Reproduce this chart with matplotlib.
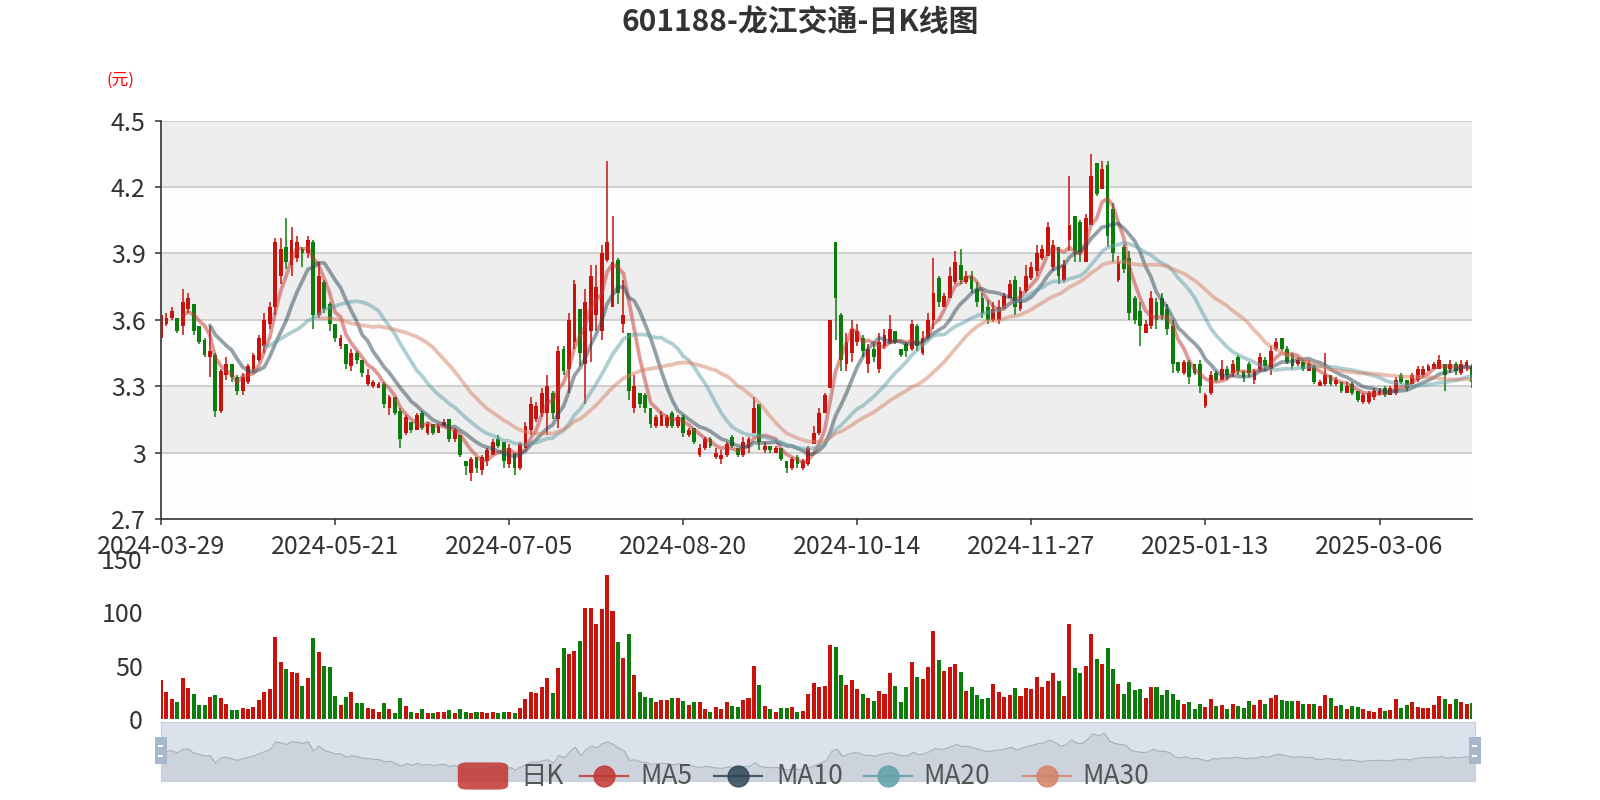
import numpy as np
import pandas as pd
import matplotlib
matplotlib.use('Agg')
import matplotlib.pyplot as plt
from matplotlib.patches import Rectangle, FancyBboxPatch
from matplotlib.lines import Line2D

plt.rcParams['font.family'] = ['Noto Sans CJK SC', 'DejaVu Sans']

# trading calendar (A-share), holidays removed from weekdays
holidays = ['2024-04-04', '2024-04-05', '2024-05-01', '2024-05-02', '2024-05-03',
            '2024-06-10', '2024-09-16', '2024-09-17', '2024-10-01', '2024-10-02',
            '2024-10-03', '2024-10-04', '2024-10-07', '2025-01-01', '2025-01-28',
            '2025-01-29', '2025-01-30', '2025-01-31', '2025-02-03', '2025-02-04']
days = pd.bdate_range('2024-03-29', '2025-03-31')
date_labels = [d.strftime('%Y-%m-%d') for d in days if d.strftime('%Y-%m-%d') not in holidays]

open_ = [
    3.52, 3.58, 3.61, 3.61, 3.57, 3.65, 3.67, 3.57, 3.51, 3.43,
    3.44, 3.19, 3.35, 3.40, 3.34, 3.28, 3.32, 3.38, 3.42, 3.48,
    3.58, 3.66, 3.80, 3.93, 3.85, 3.88, 3.92, 3.90, 3.95, 3.62,
    3.77, 3.67, 3.58, 3.48, 3.49, 3.39, 3.45, 3.42, 3.31, 3.30,
    3.29, 3.31, 3.20, 3.25, 3.19, 3.09, 3.14, 3.10, 3.18, 3.09,
    3.13, 3.09, 3.12, 3.15, 3.06, 3.08, 2.96, 2.91, 2.98, 2.92,
    2.96, 2.99, 3.06, 3.05, 2.95, 3.00, 2.93, 3.02, 3.10, 3.15,
    3.18, 3.18, 3.27, 3.15, 3.47, 3.38, 3.50, 3.65, 3.40, 3.55,
    3.62, 3.55, 3.87, 3.66, 3.87, 3.58, 3.54, 3.20, 3.27, 3.26,
    3.20, 3.12, 3.12, 3.12, 3.18, 3.12, 3.16, 3.08, 3.11, 2.99,
    3.02, 3.06, 2.98, 2.97, 2.99, 3.07, 3.02, 2.99, 3.02, 3.09,
    3.22, 3.01, 3.03, 3.00, 3.02, 2.96, 2.93, 2.98, 2.93, 2.95,
    3.04, 3.09, 3.18, 3.29, 3.95, 3.62, 3.40, 3.45, 3.50, 3.52,
    3.40, 3.47, 3.38, 3.48, 3.50, 3.55, 3.47, 3.49, 3.47, 3.57,
    3.45, 3.52, 3.60, 3.79, 3.66, 3.70, 3.77, 3.85, 3.77, 3.80,
    3.74, 3.70, 3.66, 3.60, 3.60, 3.65, 3.70, 3.78, 3.65, 3.73,
    3.79, 3.82, 3.88, 3.89, 3.84, 3.93, 3.78, 3.96, 4.07, 4.04,
    3.86, 4.03, 4.31, 4.19, 4.30, 4.10, 3.78, 3.93, 3.88, 3.70,
    3.64, 3.54, 3.57, 3.68, 3.70, 3.65, 3.57, 3.41, 3.36, 3.41,
    3.40, 3.40, 3.21, 3.27, 3.36, 3.33, 3.38, 3.36, 3.43, 3.37,
    3.40, 3.33, 3.38, 3.42, 3.38, 3.47, 3.52, 3.47, 3.44, 3.40,
    3.41, 3.37, 3.39, 3.30, 3.31, 3.35, 3.31, 3.32, 3.27, 3.31,
    3.28, 3.23, 3.23, 3.25, 3.26, 3.29, 3.26, 3.27, 3.35, 3.33,
    3.31, 3.33, 3.35, 3.37, 3.38, 3.38, 3.40, 3.38, 3.40, 3.36,
    3.39, 3.39]

high = [
    3.84, 3.63, 3.66, 3.61, 3.74, 3.72, 3.67, 3.57, 3.52, 3.57,
    3.45, 3.38, 3.43, 3.40, 3.35, 3.36, 3.40, 3.45, 3.53, 3.63,
    3.68, 3.97, 3.97, 4.06, 4.02, 3.98, 3.93, 3.98, 3.96, 3.86,
    3.78, 3.68, 3.58, 3.53, 3.49, 3.47, 3.46, 3.42, 3.38, 3.33,
    3.32, 3.32, 3.26, 3.25, 3.20, 3.17, 3.14, 3.18, 3.19, 3.14,
    3.13, 3.13, 3.15, 3.15, 3.11, 3.08, 2.96, 2.98, 2.98, 2.99,
    3.02, 3.06, 3.08, 3.05, 3.04, 3.00, 3.05, 3.14, 3.25, 3.23,
    3.29, 3.35, 3.28, 3.48, 3.48, 3.63, 3.78, 3.65, 3.74, 3.85,
    3.85, 3.94, 4.32, 4.07, 3.88, 3.78, 3.54, 3.35, 3.27, 3.27,
    3.20, 3.17, 3.19, 3.17, 3.19, 3.17, 3.17, 3.11, 3.11, 3.04,
    3.07, 3.07, 3.02, 3.01, 3.05, 3.08, 3.02, 3.07, 3.07, 3.25,
    3.22, 3.05, 3.03, 3.03, 3.02, 2.96, 2.98, 2.99, 2.97, 3.03,
    3.12, 3.20, 3.27, 3.60, 3.95, 3.63, 3.54, 3.60, 3.58, 3.53,
    3.49, 3.49, 3.54, 3.56, 3.62, 3.55, 3.47, 3.50, 3.60, 3.58,
    3.55, 3.63, 3.88, 3.80, 3.72, 3.84, 3.91, 3.92, 3.82, 3.82,
    3.77, 3.72, 3.69, 3.68, 3.69, 3.72, 3.78, 3.80, 3.75, 3.85,
    3.86, 3.94, 3.94, 4.04, 3.96, 3.93, 3.87, 4.25, 4.07, 4.05,
    4.08, 4.35, 4.31, 4.32, 4.32, 4.13, 3.89, 3.94, 3.91, 3.71,
    3.68, 3.60, 3.73, 3.70, 3.72, 3.67, 3.60, 3.41, 3.42, 3.42,
    3.40, 3.42, 3.27, 3.37, 3.37, 3.42, 3.39, 3.42, 3.44, 3.37,
    3.41, 3.38, 3.45, 3.43, 3.48, 3.52, 3.52, 3.48, 3.45, 3.43,
    3.42, 3.42, 3.40, 3.33, 3.45, 3.35, 3.34, 3.32, 3.32, 3.32,
    3.28, 3.27, 3.28, 3.29, 3.29, 3.30, 3.30, 3.34, 3.36, 3.33,
    3.36, 3.39, 3.39, 3.40, 3.41, 3.44, 3.40, 3.42, 3.41, 3.42,
    3.42, 3.40]

low = [
    3.50, 3.57, 3.60, 3.54, 3.53, 3.63, 3.53, 3.49, 3.43, 3.34,
    3.16, 3.18, 3.33, 3.32, 3.26, 3.26, 3.31, 3.37, 3.41, 3.45,
    3.56, 3.62, 3.76, 3.83, 3.80, 3.86, 3.84, 3.88, 3.56, 3.61,
    3.63, 3.55, 3.50, 3.47, 3.38, 3.37, 3.40, 3.34, 3.30, 3.29,
    3.29, 3.20, 3.17, 3.17, 3.02, 3.08, 3.09, 3.10, 3.10, 3.08,
    3.08, 3.09, 3.12, 3.05, 3.05, 2.98, 2.90, 2.87, 2.91, 2.90,
    2.94, 2.99, 3.02, 2.93, 2.93, 2.90, 2.92, 3.02, 3.08, 3.14,
    3.16, 3.08, 3.15, 3.11, 3.35, 3.27, 3.47, 3.39, 3.22, 3.41,
    3.55, 3.51, 3.86, 3.66, 3.67, 3.54, 3.24, 3.18, 3.20, 3.18,
    3.11, 3.11, 3.12, 3.11, 3.11, 3.11, 3.07, 3.07, 3.04, 2.98,
    3.01, 3.02, 2.97, 2.95, 2.98, 3.02, 2.98, 2.98, 3.00, 3.09,
    3.01, 3.00, 3.00, 3.00, 2.96, 2.91, 2.92, 2.93, 2.92, 2.94,
    3.04, 3.08, 3.18, 3.29, 3.51, 3.37, 3.37, 3.41, 3.48, 3.43,
    3.36, 3.41, 3.36, 3.47, 3.49, 3.49, 3.43, 3.43, 3.46, 3.46,
    3.44, 3.51, 3.56, 3.66, 3.66, 3.70, 3.76, 3.76, 3.76, 3.72,
    3.66, 3.61, 3.58, 3.59, 3.58, 3.65, 3.70, 3.62, 3.64, 3.72,
    3.78, 3.80, 3.87, 3.89, 3.82, 3.76, 3.77, 3.91, 3.86, 3.86,
    3.86, 4.03, 4.16, 4.19, 3.93, 3.86, 3.77, 3.81, 3.60, 3.58,
    3.48, 3.54, 3.56, 3.56, 3.60, 3.53, 3.36, 3.36, 3.35, 3.31,
    3.35, 3.27, 3.20, 3.26, 3.32, 3.33, 3.33, 3.34, 3.35, 3.32,
    3.34, 3.31, 3.37, 3.37, 3.35, 3.46, 3.46, 3.40, 3.38, 3.39,
    3.37, 3.37, 3.31, 3.30, 3.30, 3.30, 3.30, 3.27, 3.27, 3.26,
    3.23, 3.22, 3.22, 3.24, 3.26, 3.25, 3.26, 3.26, 3.31, 3.28,
    3.31, 3.32, 3.34, 3.37, 3.38, 3.38, 3.28, 3.36, 3.35, 3.35,
    3.37, 3.29]

close = [
    3.62, 3.61, 3.64, 3.55, 3.68, 3.70, 3.55, 3.50, 3.44, 3.46,
    3.19, 3.37, 3.40, 3.34, 3.28, 3.34, 3.39, 3.44, 3.52, 3.60,
    3.66, 3.95, 3.92, 3.86, 3.96, 3.95, 3.90, 3.96, 3.62, 3.80,
    3.65, 3.58, 3.52, 3.52, 3.40, 3.45, 3.42, 3.36, 3.35, 3.32,
    3.31, 3.22, 3.25, 3.18, 3.06, 3.16, 3.10, 3.17, 3.11, 3.13,
    3.09, 3.12, 3.14, 3.06, 3.10, 2.99, 2.94, 2.97, 2.93, 2.98,
    3.01, 3.05, 3.03, 2.96, 3.02, 2.93, 3.04, 3.12, 3.22, 3.21,
    3.27, 3.30, 3.18, 3.46, 3.37, 3.60, 3.76, 3.45, 3.68, 3.80,
    3.75, 3.90, 3.95, 3.86, 3.72, 3.62, 3.28, 3.30, 3.22, 3.20,
    3.13, 3.16, 3.17, 3.16, 3.12, 3.16, 3.09, 3.10, 3.05, 3.02,
    3.06, 3.03, 3.00, 2.99, 3.04, 3.03, 2.99, 3.05, 3.06, 3.20,
    3.05, 3.03, 3.01, 3.02, 2.97, 2.93, 2.97, 2.95, 2.96, 3.02,
    3.09, 3.18, 3.26, 3.60, 3.70, 3.42, 3.50, 3.56, 3.55, 3.46,
    3.47, 3.43, 3.50, 3.53, 3.56, 3.50, 3.44, 3.46, 3.58, 3.48,
    3.52, 3.60, 3.72, 3.68, 3.71, 3.80, 3.86, 3.78, 3.80, 3.74,
    3.68, 3.63, 3.60, 3.65, 3.66, 3.71, 3.76, 3.66, 3.73, 3.80,
    3.84, 3.90, 3.92, 4.02, 3.94, 3.80, 3.85, 4.03, 3.91, 3.90,
    4.06, 4.25, 4.17, 4.28, 3.98, 3.90, 3.86, 3.83, 3.63, 3.60,
    3.57, 3.58, 3.70, 3.60, 3.62, 3.56, 3.40, 3.37, 3.41, 3.34,
    3.36, 3.30, 3.26, 3.35, 3.33, 3.38, 3.35, 3.40, 3.37, 3.34,
    3.36, 3.37, 3.43, 3.39, 3.46, 3.50, 3.47, 3.41, 3.39, 3.42,
    3.38, 3.40, 3.32, 3.32, 3.35, 3.31, 3.33, 3.28, 3.30, 3.27,
    3.24, 3.26, 3.27, 3.28, 3.28, 3.26, 3.29, 3.33, 3.32, 3.29,
    3.35, 3.38, 3.38, 3.39, 3.40, 3.42, 3.35, 3.40, 3.37, 3.40,
    3.41, 3.32]

# volume, 万手
volume = [
    36.6, 25.6, 18.4, 15.6, 38.2, 29.4, 23.8, 13.5, 12.9, 20.3,
    22.5, 20.0, 14.0, 8.0, 8.0, 10.0, 9.0, 11.6, 17.8, 25.0,
    28.4, 77.2, 53.1, 46.9, 43.8, 42.8, 31.3, 38.2, 76.2, 62.8,
    49.4, 48.4, 21.9, 12.9, 20.6, 25.3, 14.7, 15.3, 10.3, 9.4,
    7.0, 14.7, 9.4, 6.0, 19.7, 11.9, 7.0, 6.0, 9.0, 6.0,
    6.0, 6.5, 7.0, 8.5, 6.0, 9.0, 7.0, 6.0, 7.0, 7.0,
    6.0, 7.0, 6.0, 6.5, 7.0, 6.0, 10.6, 18.8, 25.0, 24.4,
    30.0, 38.8, 24.0, 47.8, 66.3, 61.3, 63.8, 73.1, 103.8, 103.8,
    88.8, 103.1, 134.7, 101.6, 71.9, 57.2, 79.7, 40.9, 25.6, 20.3,
    19.4, 15.6, 17.5, 17.5, 19.4, 19.4, 16.9, 13.4, 15.6, 15.6,
    9.4, 7.0, 11.3, 9.7, 15.9, 12.5, 11.6, 17.5, 20.0, 49.7,
    31.9, 12.5, 9.4, 7.0, 10.6, 10.3, 11.6, 7.0, 7.5, 23.4,
    34.1, 29.7, 30.9, 69.1, 67.2, 40.9, 31.6, 36.3, 27.8, 23.4,
    19.7, 17.2, 26.3, 23.1, 43.4, 30.9, 15.6, 29.7, 53.4, 39.1,
    37.2, 49.1, 82.5, 55.3, 45.0, 49.1, 51.6, 44.4, 25.9, 30.0,
    22.5, 18.4, 19.7, 32.5, 25.3, 20.9, 22.2, 29.4, 21.6, 29.4,
    28.1, 39.4, 29.7, 35.6, 42.8, 35.9, 21.6, 89.1, 47.5, 42.8,
    49.4, 79.7, 56.3, 51.3, 66.3, 47.2, 33.1, 23.8, 35.0, 27.2,
    28.1, 19.4, 29.7, 29.7, 22.8, 27.2, 23.1, 17.8, 13.8, 16.3,
    9.4, 14.4, 11.0, 18.4, 12.5, 13.1, 9.4, 14.4, 12.2, 10.0,
    16.9, 12.8, 18.1, 13.8, 19.7, 22.5, 17.5, 17.2, 16.6, 16.6,
    14.1, 13.8, 14.4, 11.9, 22.2, 19.4, 11.9, 13.1, 9.4, 12.2,
    11.6, 9.4, 7.5, 7.0, 10.0, 7.5, 8.0, 18.4, 10.6, 12.8,
    15.9, 11.6, 10.0, 10.0, 13.4, 21.3, 18.4, 14.4, 19.0, 16.0,
    14.0, 15.0]

ma_windows = [5, 10, 20, 30]
ma_names = ['MA5', 'MA10', 'MA20', 'MA30']
ma_colors = ['#c23531', '#2f4554', '#61a0a8', '#d48265']
price_ticks = [2.7, 3.0, 3.3, 3.6, 3.9, 4.2, 4.5]
vol_ticks = [0, 50, 100, 150]

RED = '#c8120c'
GREEN = '#0b7d0b'
TXT = '#333333'

n = min(len(open_), len(high), len(low), len(close), len(volume), len(date_labels))
o = np.array(open_[:n]); h = np.array(high[:n]); l = np.array(low[:n])
c = np.array(close[:n]); v = np.array(volume[:n])
x = np.arange(n)
colors = np.where(c >= o, RED, GREEN)

W, H = 1600, 800
fig = plt.figure(figsize=(16, 8), dpi=100)
fig.patch.set_facecolor('white')


def box(x0, y0, x1, y1):
    # pixel box (top-left origin) -> figure fraction rect
    return [x0 / W, 1 - y1 / H, (x1 - x0) / W, (y1 - y0) / H]


def fx(px):
    return px / W


def fy(py):
    return 1 - py / H


# ---- price panel
ax = fig.add_axes(box(161, 120.7, 1472, 519))
bands = ['#fdfdfd', '#eeeeee']
for k in range(len(price_ticks) - 1):
    ax.axhspan(price_ticks[k], price_ticks[k + 1], color=bands[k % 2], lw=0, zorder=0)
for lv in price_ticks[1:]:
    ax.axhline(lv, color='#cccccc', lw=1.3, zorder=1)

ax.vlines(x, l, h, colors=colors, lw=1.1, zorder=3)
body_lo = np.minimum(o, c)
body_h = np.maximum(np.abs(c - o), 0.004)
ax.bar(x, body_h, bottom=body_lo, width=0.7, color=colors, lw=0, zorder=4)

for w, col in zip(ma_windows, ma_colors):
    ma = pd.Series(c).rolling(w).mean()
    ax.plot(x, ma, color=col, alpha=0.5, lw=2.7, zorder=5, solid_capstyle='round')

ax.set_xlim(0, n - 1)
ax.set_ylim(2.7, 4.5)
for s in ['top', 'right']:
    ax.spines[s].set_visible(False)
for s in ['left', 'bottom']:
    ax.spines[s].set_color(TXT)
    ax.spines[s].set_linewidth(1.2)
ax.set_yticks(price_ticks)
ax.set_yticklabels([f'{t:g}' for t in price_ticks])
ax.set_xticks(x[::32])
ax.set_xticklabels([date_labels[i] for i in x[::32]])
ax.tick_params(axis='both', colors=TXT, labelcolor=TXT, labelsize=18, length=4, width=1.1)
ax.tick_params(axis='y', pad=7)
ax.tick_params(axis='x', pad=6.5)

fig.text(fx(120), fy(80), '(元)', color='#ff0000', fontsize=12, ha='center', va='center')

# ---- volume panel
axv = fig.add_axes(box(161, 559, 1472, 719))
axv.bar(x, v, width=0.74, color=colors, lw=0)
axv.set_xlim(0, n - 1)
axv.set_ylim(0, 150)
for s in axv.spines.values():
    s.set_visible(False)
axv.set_xticks([])
axv.set_yticks(vol_ticks)
axv.set_yticklabels([str(t) for t in vol_ticks])
axv.tick_params(axis='y', length=0, pad=13, labelsize=18, labelcolor=TXT)
axv.patch.set_alpha(0)

# ---- data zoom slider
axs = fig.add_axes(box(161, 722, 1475, 781))
axs.set_facecolor('#dce2eb')
cmin, cmax = c.min(), c.max()
off = (cmax - cmin) * 0.3
axs.fill_between(x, c, cmin - off, color='#2f4554', alpha=0.09, lw=0)
axs.plot(x, c, color='#2f4554', alpha=0.3, lw=0.8)
axs.set_xlim(0, n - 1)
axs.set_ylim(cmin - off, cmax + off)
axs.set_xticks([]); axs.set_yticks([])
for s in axs.spines.values():
    s.set_color('#c8d0dc')
    s.set_linewidth(0.8)

for hx in (161, 1475):
    fig.add_artist(Rectangle((fx(hx - 6), fy(764)), 12 / W, 27 / H, transform=fig.transFigure,
                             facecolor='#a7b7cc', edgecolor='none', zorder=6))
    for yy in (746, 756):
        fig.add_artist(Rectangle((fx(hx - 3), fy(yy + 1)), 5 / W, 2 / H, transform=fig.transFigure,
                                 facecolor='white', edgecolor='none', zorder=7))

# ---- legend
leg_y = 776
fig.add_artist(FancyBboxPatch((fx(461), fy(leg_y + 12)), 44 / W, 24 / H,
                              boxstyle='round,pad=0.002,rounding_size=0.006',
                              transform=fig.transFigure, facecolor='#c23531', alpha=0.85,
                              edgecolor='none', zorder=8))
fig.text(fx(520), fy(leg_y), '日K', fontsize=19, color='#555555', va='center', ha='left', zorder=8)

icon_x = [580, 714, 864, 1023]
text_x = [640, 776, 923, 1082]
for name, col, ix, tx in zip(ma_names, ma_colors, icon_x, text_x):
    fig.add_artist(Line2D([fx(ix), fx(ix + 48)], [fy(leg_y), fy(leg_y)], transform=fig.transFigure,
                          color=col, lw=1.6, alpha=0.85, zorder=8))
    fig.add_artist(Line2D([fx(ix + 24)], [fy(leg_y)], transform=fig.transFigure, marker='o',
                          markersize=15, color=col, alpha=0.85, lw=0, zorder=9))
    fig.text(fx(tx), fy(leg_y), name, fontsize=19, color='#555555', va='center', ha='left', zorder=8)

# ---- title
fig.text(0.5, fy(22), '601188-龙江交通-日K线图', fontsize=21.5, fontweight='bold',
         color=TXT, ha='center', va='center')

fig.savefig('out.png', dpi=100)
